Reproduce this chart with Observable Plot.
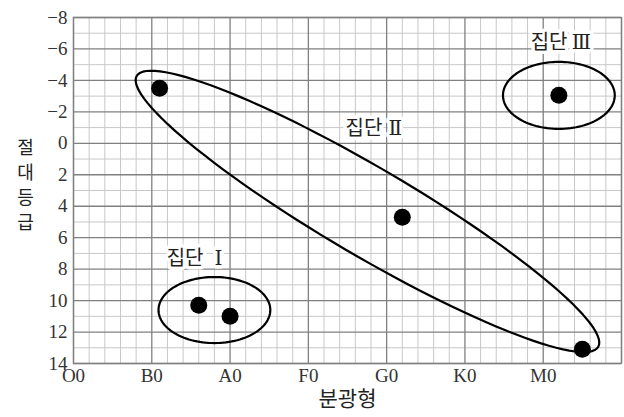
<!DOCTYPE html>
<html>
<head>
<meta charset="utf-8">
<script src="https://cdn.jsdelivr.net/npm/d3@7"></script>
<script src="https://cdn.jsdelivr.net/npm/@observablehq/plot@0.6"></script>
<style>
  html, body { margin: 0; padding: 0; background: #fff; }
</style>
</head>
<body>
<div id="chart"></div>
<script>
// spectral classes (x positions: O0 = 0, B0 = 1, ...)
const xTickLabels = ["O0", "B0", "A0", "F0", "G0", "K0", "M0"];
const xTickValues = [0, 1, 2, 3, 4, 5, 6];
const yTickValues = [-8, -6, -4, -2, 0, 2, 4, 6, 8, 10, 12, 14];

// stars
const starX = [1.1, 1.6, 2.0, 4.2, 6.5, 6.2];
const starY = [-3.5, 10.3, 11.0, 4.7, 13.1, -3.05];

// groups (ellipse annotations)
const groupPrefix = ["집단", "집단", "집단"];
const groupNumeral = ["Ⅰ", "Ⅱ", "Ⅲ"];
const groupCx = [1.8, 3.755, 6.2];
const groupCy = [10.6, 4.33, -3.05];
const groupA = [3.57, 17.07, 3.57];   // semi-major (in magnitude units)
const groupB = [2.1, 2.8, 2.13];      // semi-minor (in magnitude units)
const groupAngle = [0, 30.3, 0];      // degrees
const prefixX = [1.66, 3.946, 6.31];
const numeralX = [1.85, 4.11, 6.487];
const labelY = [7.32, -0.94, -6.41];

// one spectral class spans 5 magnitude units on screen
const aspect = 5;
const ellipsePts = [];
groupNumeral.forEach((g, i) => {
  const th = groupAngle[i] * Math.PI / 180;
  for (let k = 0; k < 120; k++) {
    const t = 2 * Math.PI * k / 120;
    const u = groupA[i] * Math.cos(t), v = groupB[i] * Math.sin(t);
    ellipsePts.push({
      g,
      x: groupCx[i] + (u * Math.cos(th) - v * Math.sin(th)) / aspect,
      y: groupCy[i] + (u * Math.sin(th) + v * Math.cos(th))
    });
  }
});

const stars = starX.map((x, i) => ({x, y: starY[i]}));
const labels = groupPrefix.map((t, i) => ({t, n: groupNumeral[i], px: prefixX[i], nx: numeralX[i], y: labelY[i]}));

const minorX = d3.range(0, 35).map(i => i / 5).filter(v => Math.abs(v - Math.round(v)) > 1e-9);
const majorX = d3.range(0, 8);
const minorY = d3.range(-7, 14, 2);

const serif = "Liberation Serif";
const kr = "Noto Sans CJK KR";
const fmtY = (d) => (d < 0 ? "\u2212" + Math.abs(d) : String(d));

const chart = Plot.plot({
  width: 624,
  height: 417,
  marginLeft: 73,
  marginTop: 17,
  marginRight: 3,
  marginBottom: 54,
  style: {background: "#fff"},
  x: {domain: [0, 7], axis: null},
  y: {domain: [-8, 14], reverse: true, axis: null},
  marks: [
    Plot.ruleX(minorX, {stroke: "#c8c8c8", strokeWidth: 1}),
    Plot.ruleY(minorY, {stroke: "#c8c8c8", strokeWidth: 1}),
    Plot.ruleX(majorX, {stroke: "#808080", strokeWidth: 1.3}),
    Plot.ruleY(yTickValues, {stroke: "#808080", strokeWidth: 1.3}),
    Plot.frame({stroke: "#808080", strokeWidth: 1.3}),
    // x tick labels
    Plot.text(xTickValues, {x: (d) => d, text: (d) => xTickLabels[d], frameAnchor: "bottom",
      lineAnchor: "top", dy: 5, fontSize: 19, fontFamily: serif, fill: "#333"}),
    // y tick labels
    Plot.text(yTickValues, {y: (d) => d, text: fmtY, frameAnchor: "left", textAnchor: "end",
      dx: -6, fontSize: 19, fontFamily: serif, fill: "#333"}),
    Plot.line(ellipsePts, {x: "x", y: "y", z: "g", curve: "linear-closed", stroke: "#000", strokeWidth: 2.2}),
    Plot.dot(stars, {x: "x", y: "y", r: 8.5, fill: "#000"}),
    Plot.text(labels, {x: "px", y: "y", text: "t", textAnchor: "end", fontSize: 20, fontFamily: kr, fill: "#222",
      stroke: "#fff", strokeWidth: 7}),
    Plot.text(labels, {x: "nx", y: "y", text: "n", fontSize: 20, fontFamily: "DejaVu Serif", fill: "#222",
      stroke: "#fff", strokeWidth: 7}),
    Plot.text(["분광형"], {frameAnchor: "bottom", dy: 42, fontSize: 21, fontFamily: kr, fill: "#222"}),
    Plot.text(["절\n대\n등\n급"], {frameAnchor: "left", textAnchor: "middle", dx: -48, dy: -7, fontSize: 18, lineHeight: 1.39, fontFamily: kr, fill: "#222"})
  ]
});
document.getElementById("chart").appendChild(chart);
</script>
</body>
</html>
